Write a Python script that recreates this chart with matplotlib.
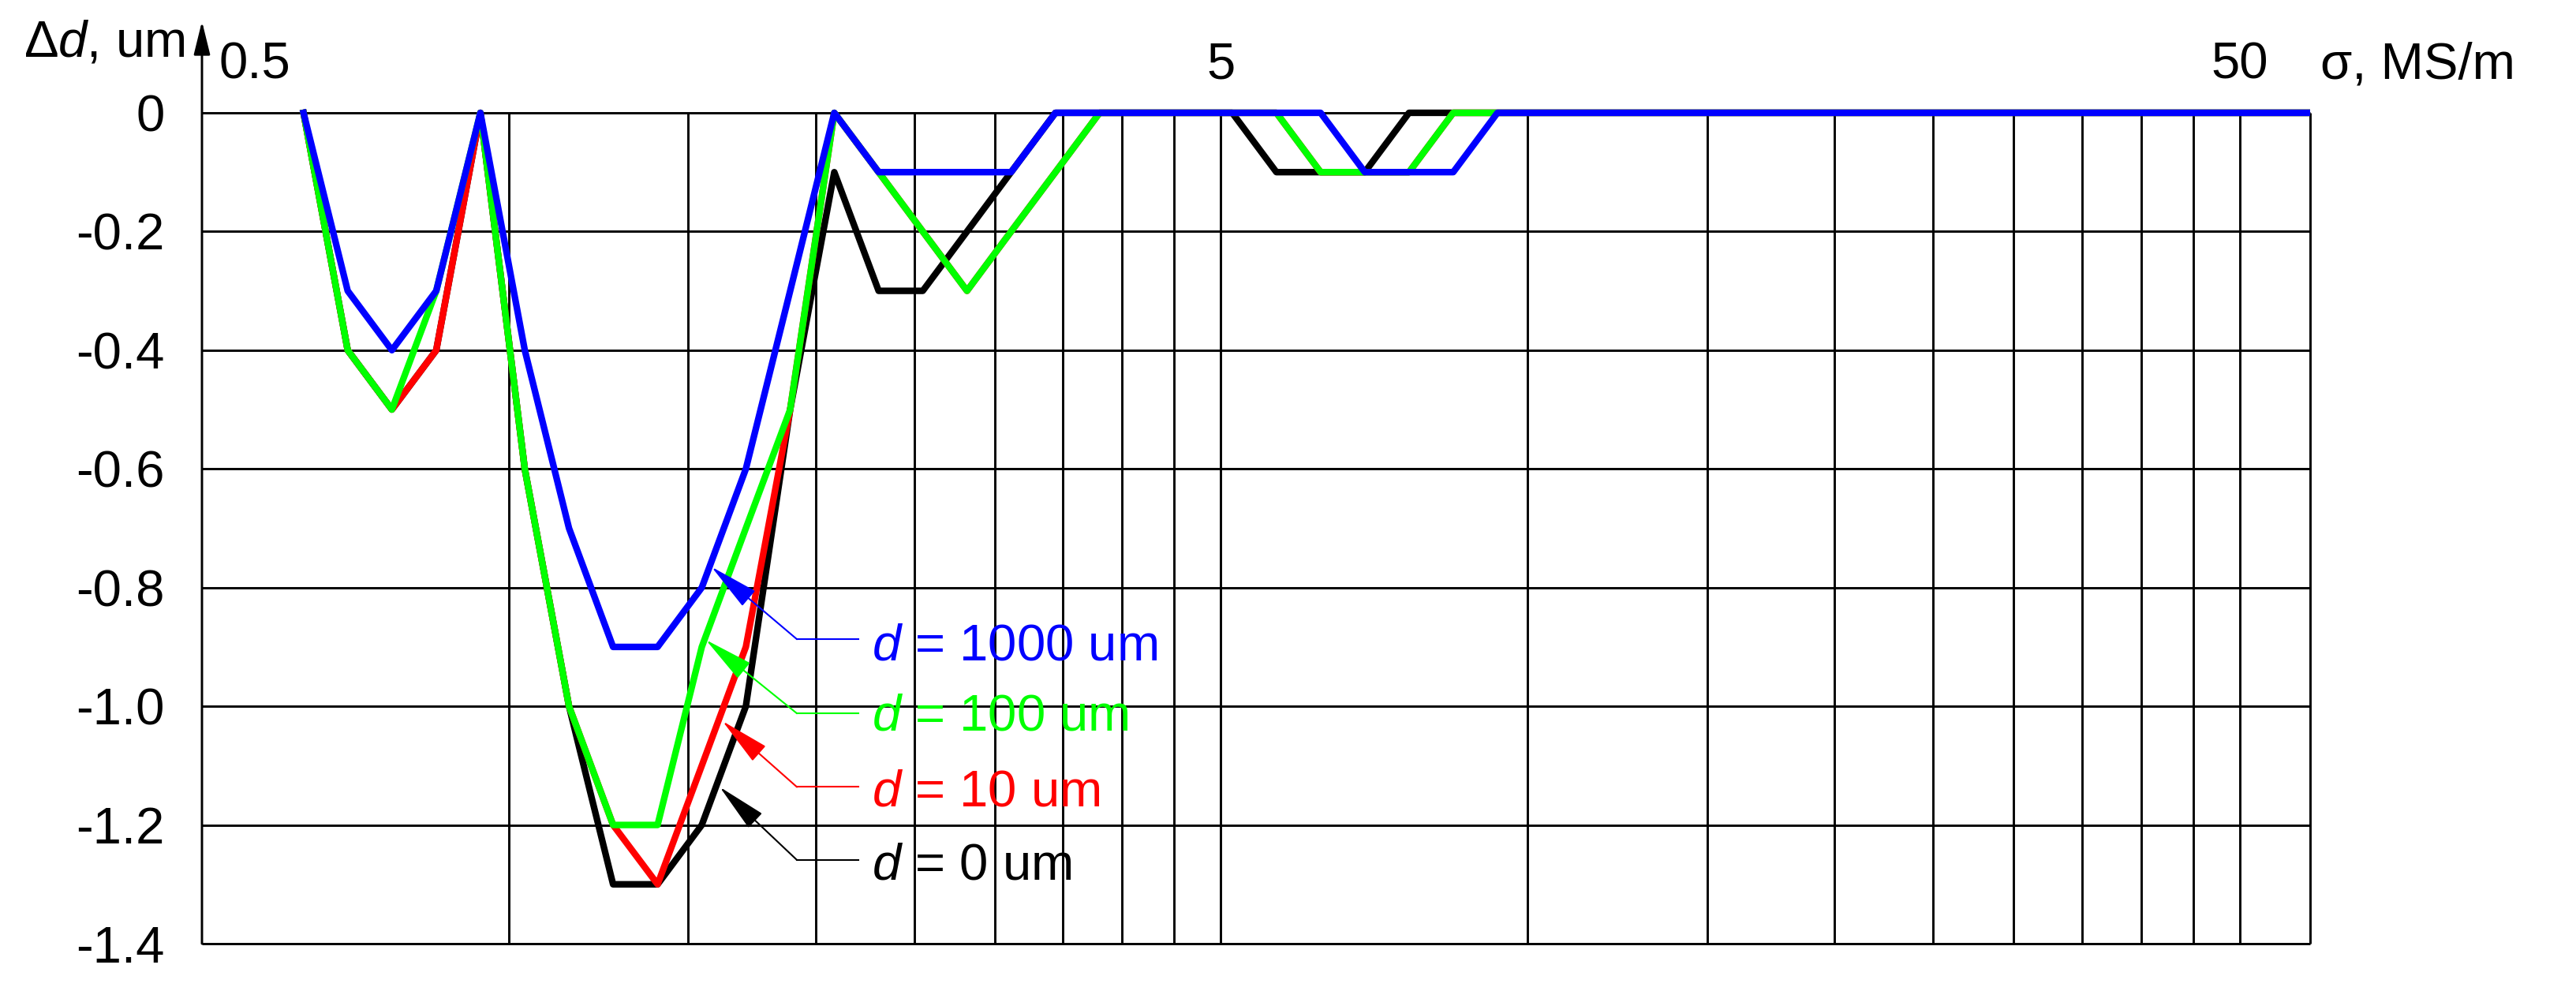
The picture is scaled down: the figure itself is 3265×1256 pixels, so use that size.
import matplotlib
matplotlib.use("Agg")
import matplotlib.pyplot as plt
from matplotlib.ticker import NullLocator

plt.rcParams['font.family'] = ['Liberation Sans', 'DejaVu Sans']
plt.rcParams['mathtext.fontset'] = 'custom'
plt.rcParams['mathtext.rm'] = 'Liberation Sans'
plt.rcParams['mathtext.it'] = 'Liberation Sans:italic'

# conductivity sigma, MS/m (log spaced samples)
sigma = [0.629, 0.695, 0.768, 0.849, 0.938, 1.037, 1.146, 1.266, 1.400, 1.547,
         1.709, 1.889, 2.087, 2.307, 2.549, 2.817, 3.112, 3.440, 3.801, 4.200,
         4.641, 5.129, 5.668, 6.263, 6.921, 7.648, 8.452, 9.340, 62.0]

# thickness error, um, for each coating thickness d
dd_0 = [0, -0.4, -0.5, -0.4, 0, -0.6, -1.0, -1.3, -1.3, -1.2,
        -1.0, -0.5, -0.1, -0.3, -0.3, -0.2, -0.1, 0, 0, 0,
        0, 0, -0.1, -0.1, -0.1, 0, 0, 0, 0]
dd_10 = [0, -0.4, -0.5, -0.4, 0, -0.6, -1.0, -1.2, -1.3, -1.1,
         -0.9, -0.5, 0, -0.1, -0.2, -0.3, -0.2, -0.1, 0, 0,
         0, 0, 0, -0.1, -0.1, -0.1, 0, 0, 0]
dd_100 = [0, -0.4, -0.5, -0.3, 0, -0.6, -1.0, -1.2, -1.2, -0.9,
          -0.7, -0.5, 0, -0.1, -0.2, -0.3, -0.2, -0.1, 0, 0,
          0, 0, 0, -0.1, -0.1, -0.1, 0, 0, 0]
dd_1000 = [0, -0.3, -0.4, -0.3, 0, -0.4, -0.7, -0.9, -0.9, -0.8,
           -0.6, -0.3, 0, -0.1, -0.1, -0.1, -0.1, 0, 0, 0,
           0, 0, 0, 0, -0.1, -0.1, -0.1, 0, 0]

labels = ['0', '10', '100', '1000']
colors = ['black', '#ff0000', '#00ff00', '#0000ff']

grid_x = [1, 1.5, 2, 2.5, 3, 3.5, 4, 4.5, 5, 10, 15, 20, 25, 30, 35, 40, 45, 50]
y_ticks = [0, -0.2, -0.4, -0.6, -0.8, -1.0, -1.2, -1.4]
y_ticklabels = ['0', '-0.2', '-0.4', '-0.6', '-0.8', '-1.0', '-1.2', '-1.4']
top_ticks = [0.5, 5, 50]

xmin, xmax = 0.5, 58.6
fs = 47

fig = plt.figure(figsize=(32.66, 12.56), dpi=100)
ax = fig.add_axes([0.07838, 0.04777, 0.81813, 0.93631])
ax.set_xscale('log')
ax.set_xlim(xmin, xmax)
ax.set_ylim(-1.4, 0.1635)
for s in ax.spines.values():
    s.set_visible(False)
ax.set_xticks([])
ax.xaxis.set_minor_locator(NullLocator())
ax.set_yticks(y_ticks, y_ticklabels)
ax.tick_params(axis='y', length=0, pad=34, labelsize=fs)

# grid
ax.vlines(grid_x + [xmax], -1.4, 0, color='black', lw=2.1, clip_on=False, zorder=1)
ax.hlines(y_ticks, xmin, xmax, color='black', lw=2.1, clip_on=False, zorder=1)

# axis arrows
ax.annotate('', xy=(xmin, 0.1542), xytext=(xmin, -1.4),
            arrowprops=dict(arrowstyle='-|>,head_length=1.3,head_width=0.32', mutation_scale=20,
                            lw=2.1, color='black', shrinkA=0, shrinkB=0, clip_on=False))
ax.annotate('', xy=(101.7, 0), xytext=(xmax, 0),
            arrowprops=dict(arrowstyle='-|>,head_length=1.4,head_width=0.32', mutation_scale=20,
                            lw=2.1, color='black', shrinkA=0, shrinkB=0, clip_on=False))

# curves
for ys, c in zip([dd_0, dd_10, dd_100, dd_1000], colors):
    ax.plot(sigma, ys, color=c, lw=6.0, solid_joinstyle='round', zorder=3)

# axis texts
ax.text(0.4815, 0.0948, r'$\Delta d$, um', fontsize=fs, ha='right', va='baseline')
ax.text(59.94, 0.0572, 'σ, MS/m', fontsize=fs, ha='left', va='baseline')
for t in top_ticks:
    if t == xmin:
        ax.text(0.5198, 0.0572, '0.5', fontsize=fs, ha='left', va='baseline')
    else:
        ax.text(t, 0.0572, f'{t:g}', fontsize=fs, ha='center', va='baseline')

# curve labels with leaders
tips = [(1.611, -1.136), (1.621, -1.025), (1.561, -0.888), (1.581, -0.765)]
leader_y = [-1.259, -1.136, -1.012, -0.887]
text_y = [-1.291, -1.168, -1.041, -0.922]
x_knee, x_end, x_text = 1.918, 2.202, 2.271
for lab, c, tip, ly, ty in zip(labels, colors, tips, leader_y, text_y):
    ax.plot([x_knee, x_end], [ly, ly], color=c, lw=1.5, zorder=4)
    ax.annotate('', xy=tip, xytext=(x_knee, ly),
                arrowprops=dict(arrowstyle='-|>,head_length=2.0,head_width=0.4', mutation_scale=20,
                                lw=1.5, color=c, shrinkA=0, shrinkB=0), zorder=4)
    ax.text(x_text, ty, rf'$d$ = {lab} um', color=c, fontsize=fs, ha='left', va='baseline', zorder=5)

fig.savefig('out.png', dpi=100, facecolor='white')
